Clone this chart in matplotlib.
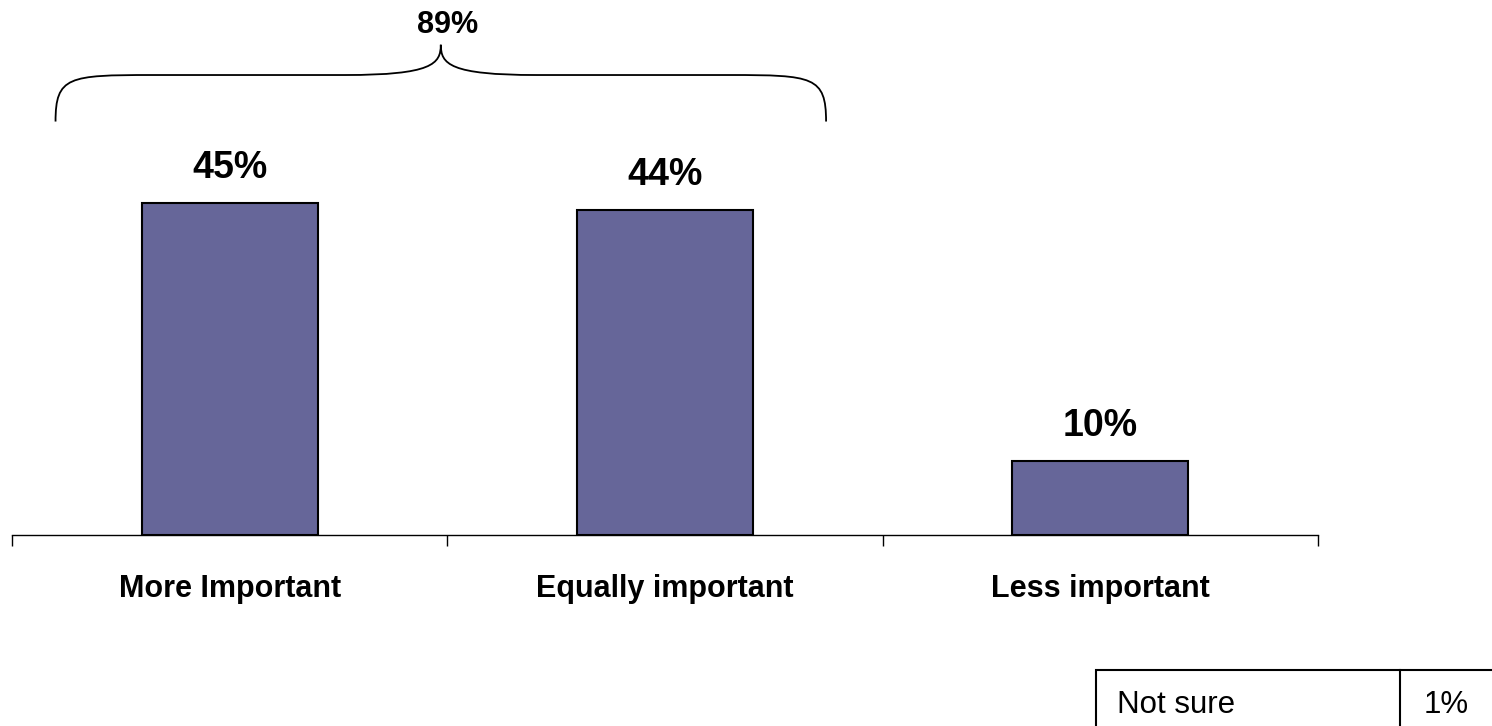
import matplotlib.pyplot as plt
from matplotlib.path import Path
from matplotlib.patches import PathPatch, Rectangle

plt.rcParams['font.family'] = ['Liberation Sans', 'DejaVu Sans']

# data
categories = ["More Important", "Equally important", "Less important"]
values = [45, 44, 10]
combined_label = "89%"
table_labels = ["Not sure"]
table_values = ["1%"]

fig = plt.figure(figsize=(14.92, 7.26), dpi=100)
W, H = 1492, 726
ax = fig.add_axes([12 / W, (H - 535) / H, (1318 - 12) / W, 443 / H])

x = range(len(categories))
ax.bar(x, values, width=0.405, color="#666699", edgecolor="black", linewidth=1.5, zorder=2)

# value labels, baseline ~25px above bar tops
for i, v in enumerate(values):
    ax.annotate(f"{v}%", (i, v), xytext=(0, 18), textcoords="offset points",
                ha="center", va="baseline", fontsize=27, fontweight="bold")

ax.set_xlim(-0.5, 2.5)
ax.set_ylim(0, 60)
ax.set_xticks([-0.5, 0.5, 1.5, 2.5])
ax.set_xticklabels([])
ax.tick_params(axis="x", direction="out", length=8, width=1, color="black")
ax.set_yticks([])
for s in ["top", "right", "left"]:
    ax.spines[s].set_visible(False)
ax.spines["bottom"].set_linewidth(1)

for i, c in enumerate(categories):
    ax.text(i, -8.4, c, ha="center", va="baseline", fontsize=22, fontweight="bold")

# brace over first two bars
x0, x1 = -0.40, 1.37
xm = (x0 + x1) / 2
y_end, y_mid, y_tip = 56.0, 62.3, 66.4
dx = 0.22
verts = [
    (x0, y_end), (x0, y_mid - 0.2), (x0 + 0.03, y_mid), (x0 + dx, y_mid),
    (xm - dx, y_mid), (xm - 0.02, y_mid), (xm, y_mid + 1.5), (xm, y_tip),
    (xm, y_mid + 1.5), (xm + 0.02, y_mid), (xm + dx, y_mid),
    (x1 - dx, y_mid), (x1 - 0.03, y_mid), (x1, y_mid - 0.2), (x1, y_end),
]
codes = [Path.MOVETO, Path.CURVE4, Path.CURVE4, Path.CURVE4,
         Path.LINETO, Path.CURVE4, Path.CURVE4, Path.CURVE4,
         Path.CURVE4, Path.CURVE4, Path.CURVE4,
         Path.LINETO, Path.CURVE4, Path.CURVE4, Path.CURVE4]
ax.add_patch(PathPatch(Path(verts, codes), fill=False, lw=1.3, color="black", clip_on=False))
ax.text(xm + 0.015, 68.0, combined_label, ha="center", va="baseline", fontsize=22, fontweight="bold")

# small table bottom right
tx0, tx1, tx2 = 1096 / W, 1400 / W, 1.0
ty_top = (H - 670) / H
fig.add_artist(Rectangle((tx0, -0.05), tx2 - tx0 + 0.01, ty_top + 0.05, fill=False,
                         lw=1.5, edgecolor="black", transform=fig.transFigure))
fig.add_artist(plt.Line2D([tx1, tx1], [-0.05, ty_top], lw=1.5, color="black",
                          transform=fig.transFigure))
for lab, val in zip(table_labels, table_values):
    fig.text(1117 / W, (H - 713) / H, lab, ha="left", va="baseline", fontsize=22.5)
    fig.text(1446 / W, (H - 713) / H, val, ha="center", va="baseline", fontsize=22.5)

fig.savefig("out.png", dpi=100)
